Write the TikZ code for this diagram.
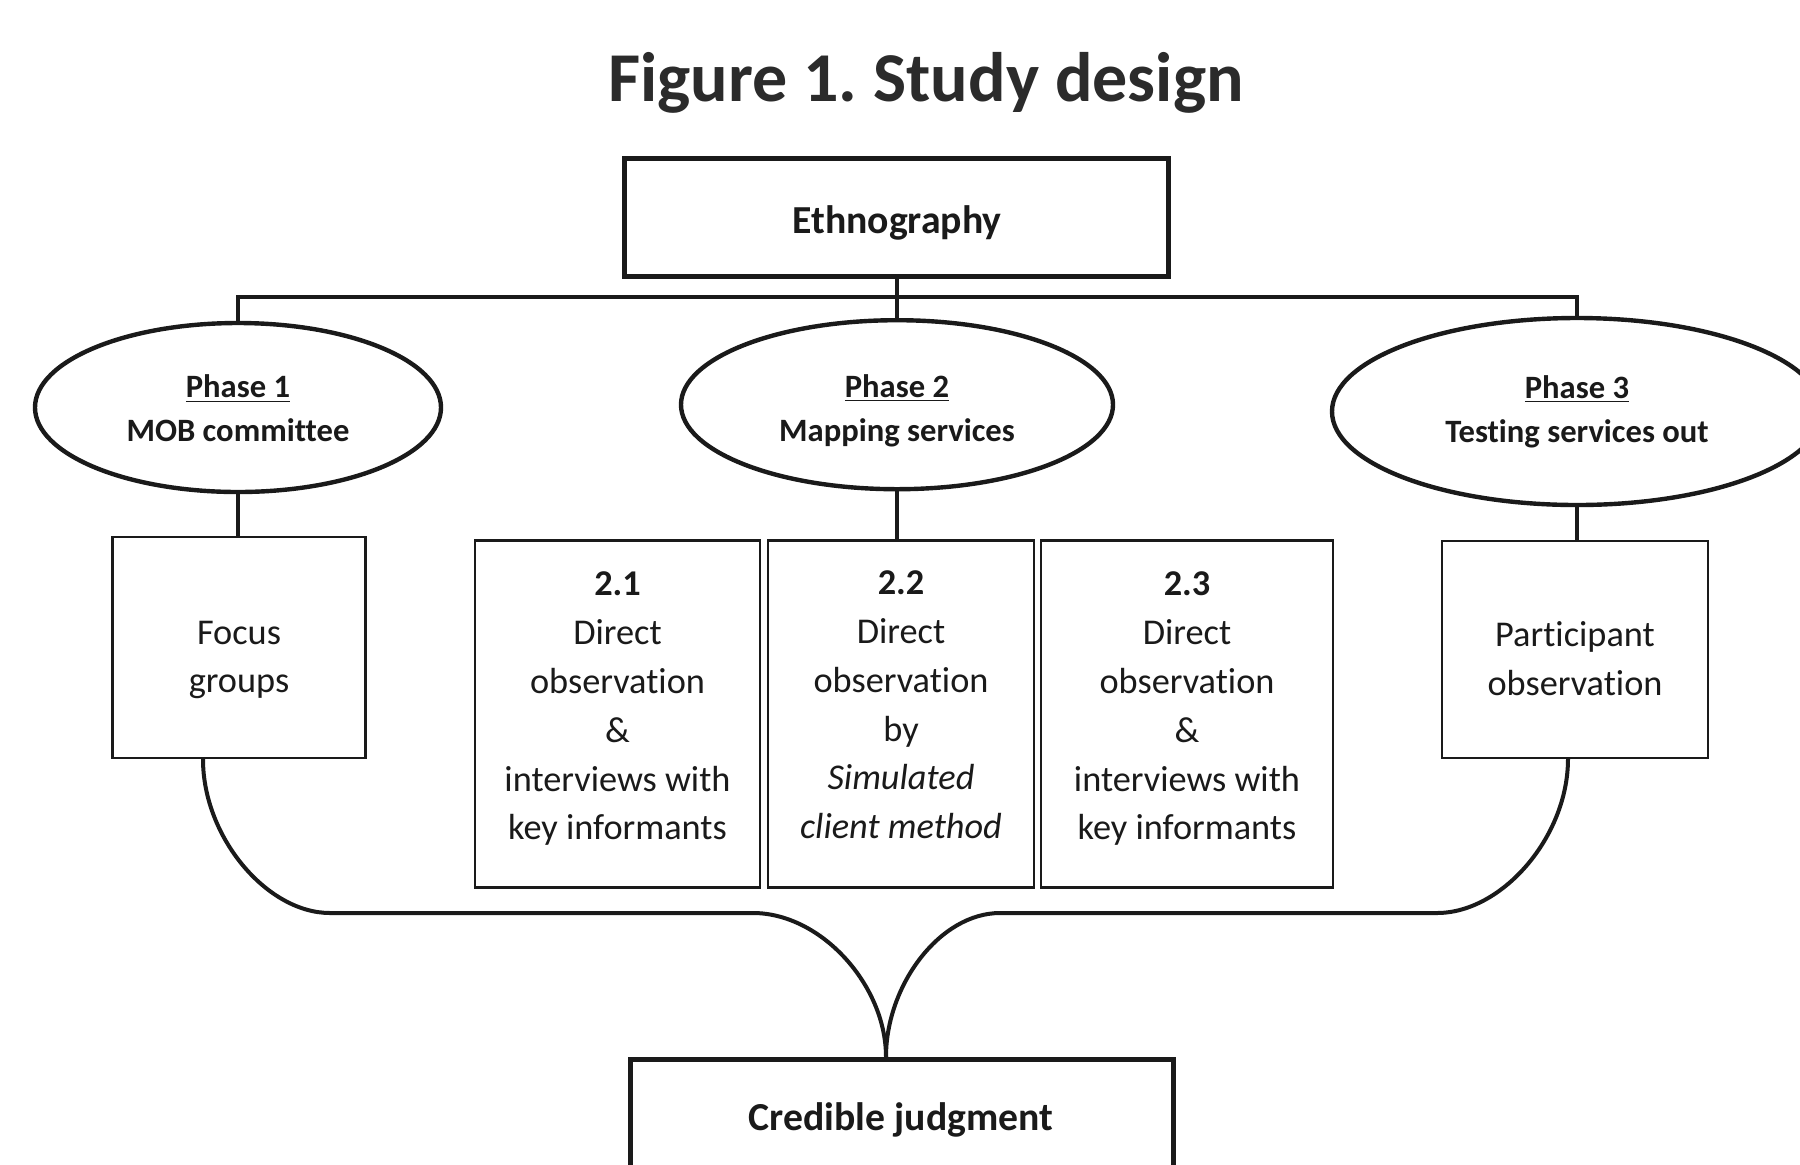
\documentclass[tikz,border=0pt]{standalone}
\usepackage{fontspec}
\setmainfont[Ligatures=NoCommon]{Carlito}
\usetikzlibrary{shapes.geometric,calc}
\definecolor{ink}{HTML}{1A1A1A}
\definecolor{titleink}{HTML}{2B2B2B}
\frenchspacing
\begin{document}
\begin{tikzpicture}[x=0.5pt,y=-0.5pt,
  thickbox/.style={draw=ink,line width=2.3pt,rectangle,inner sep=0pt},
  phase/.style={draw=ink,line width=2.2pt,ellipse,inner sep=0pt},
  phasetext/.style={align=center,inner sep=0pt,
    font=\fontsize{16.3}{21.85}\selectfont\bfseries,text=ink},
  thinbox/.style={draw=ink,line width=1.2pt,rectangle,inner sep=0pt},
  boxtext/.style={align=center,font=\fontsize{18.15}{24.4}\selectfont,text=ink,inner sep=0pt},
  bigtext/.style={font=\fontsize{19.85}{24}\selectfont\bfseries,text=ink,inner sep=0pt},
  link/.style={draw=ink,line width=2pt},
]
\useasboundingbox (0,0) rectangle (1800,1164);
\clip (0,0) rectangle (1800,1164);
\fill[white] (0,0) rectangle (1800,1164);

\node[font=\fontsize{35}{40}\selectfont\bfseries,text=titleink,anchor=base,inner sep=0pt] (title) at (926,101) {Figure 1. Study design};

\node[thickbox,minimum width=272.1pt,minimum height=59.15pt] (ethno) at (896.6,217.5) {};
\node[bigtext,anchor=base] (ethnotxt) at (897,233) {Ethnography};

\node[phase,minimum width=203pt,minimum height=84.5pt] (e1) at (238,407.5) {};
\node[phase,minimum width=216pt,minimum height=84.5pt] (e2) at (897,404.7) {};
\node[phase,minimum width=245pt,minimum height=93.5pt] (e3) at (1577,411.5) {};
\node[phasetext] (e1txt) at ($(e1.center)+(0,1)$) {\underline{Phase 1}\\MOB committee};
\node[phasetext] (e2txt) at ($(e2.center)+(0,6)$) {\underline{Phase 2}\\Mapping services};
\node[phasetext] (e3txt) at (e3.center) {\underline{Phase 3}\\Testing services out};

\coordinate (hy) at (0,297);
\draw[link] (ethno.south) -- (ethno.south |- hy);
\draw[link] (e1.north) -- (e1.north |- hy) -- (e3.north |- hy) -- (e3.north);
\draw[link] (e2.north) -- (e2.north |- hy);

\node[thinbox,minimum width=126.5pt,minimum height=110.5pt] (foc) at (239,647.5) {};
\node[boxtext] (foctxt) at ($(foc.center)+(0,12.5)$) {Focus\\groups};

\node[thinbox,minimum width=142.5pt,minimum height=173.35pt] (b21) at (617.5,714) {};
\node[thinbox,minimum width=133pt,minimum height=173.35pt] (b22) at (901,714) {};
\node[thinbox,minimum width=146pt,minimum height=173.35pt] (b23) at (1187,714) {};
\node[boxtext] (t21) at ($(b21.center)+(0,-5)$) {\textbf{2.1}\\Direct\\observation\\\&\\interviews with\\key informants};
\node[boxtext] (t22) at ($(b22.center)+(0,-9)$) {\textbf{2.2}\\Direct\\observation\\by\\\textit{Simulated}\\\textit{client method}};
\node[boxtext] (t23) at ($(b23.center)+(0,-5)$) {\textbf{2.3}\\Direct\\observation\\\&\\interviews with\\key informants};

\node[thinbox,minimum width=133pt,minimum height=108.5pt] (part) at (1575,649.2) {};
\node[boxtext] (parttxt) at ($(part.center)+(0,9.5)$) {Participant\\observation};

\draw[link] (e1.south) -- (e1.south |- foc.north);
\draw[link] (e2.south) -- (e2.south |- b22.north);
\draw[link] (e3.south) -- (e3.south |- part.north);

\node[thickbox,minimum width=271.7pt,minimum height=100pt,anchor=north] (cj) at (902,1057) {};
\node[bigtext,anchor=base] (cjtxt) at (901,1130) {Credible judgment};

\coordinate (tip) at ($(cj.north)+(-16,0)$);
\coordinate (l1) at (330,913);
\coordinate (l2) at (753,913);
\coordinate (r1) at (1437,913);
\coordinate (r2) at (1000,913);
\draw[link] ($(foc.south)+(-36,0)$) .. controls +(0,78) and +(-63,0) .. (l1) -- (l2) .. controls +(68,0) and +(0,-72) .. (tip);
\draw[link] ($(part.south)+(-7,0)$) .. controls +(0,78) and +(65,0) .. (r1) -- (r2) .. controls +(-60,0) and +(0,-72) .. (tip);
\end{tikzpicture}
\end{document}
